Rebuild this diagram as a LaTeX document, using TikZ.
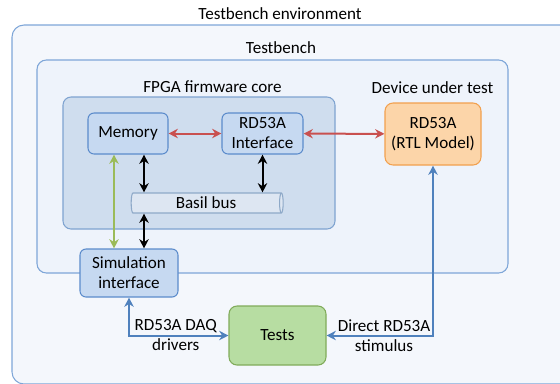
\documentclass[tikz,border=0pt]{standalone}
\usepackage{fontspec}
\setmainfont{Carlito}
\usetikzlibrary{arrows.meta,shapes.geometric,calc}
\definecolor{envfill}{HTML}{F4F7FC}
\definecolor{envline}{HTML}{7EA6D8}
\definecolor{tbfill}{HTML}{EEF3FB}
\definecolor{fpgafill}{HTML}{CFDDEE}
\definecolor{fpgaline}{HTML}{7FA3D0}
\definecolor{blockfill}{HTML}{C6D9F1}
\definecolor{blockline}{HTML}{5B8BCB}
\definecolor{busfill}{HTML}{DDE6F2}
\definecolor{busline}{HTML}{8EA9C8}
\definecolor{dutfill}{HTML}{FCD5A9}
\definecolor{dutline}{HTML}{F2A04E}
\definecolor{testfill}{HTML}{B7DDA2}
\definecolor{testline}{HTML}{80AB5A}
\definecolor{redarrow}{HTML}{C9504F}
\definecolor{greenarrow}{HTML}{9BBB59}
\definecolor{bluearrow}{HTML}{4F81BD}
\tikzset{%
  >={Stealth[length=7pt,width=7pt]},
  % Specifications for style of nodes:
        base/.style = {rectangle, draw, line width=0.8pt, align=center,
                       inner sep=0pt, font=\fontsize{12.8}{15}\selectfont},
   container/.style = {base, rounded corners=7pt},
       block/.style = {base, rounded corners=4.5pt, draw=blockline,
                       fill=blockfill},
     dutblock/.style = {base, rounded corners=6pt, draw=dutline, fill=dutfill},
   testblock/.style = {base, rounded corners=6pt, draw=testline, fill=testfill},
       title/.style = {font=\fontsize{12.8}{15}\selectfont},
     busline/.style = {line width=1.5pt},
}

\begin{document}
\begin{tikzpicture}[x=0.75pt, y=-0.75pt]
  \useasboundingbox (0,0) rectangle (560,383);
  \clip (0,0) rectangle (560,383);
  % Containers (drawn first, blocks on top)
  \node (env)  [container, rounded corners=9pt, draw=envline, fill=envfill,
                minimum width=433.5pt, minimum height=269.25pt] at (301,204.5) {};
  \node (tb)   [container, draw=envline, fill=tbfill,
                minimum width=353.25pt, minimum height=159.75pt] at (272.5,166.5) {};
  \node (fpga) [container, rounded corners=6pt, draw=fpgaline, fill=fpgafill,
                minimum width=204pt, minimum height=99pt] at (199,163) {};
  \node (envTitle)  [title] at (280,14) {Testbench environment};
  \node (tbTitle)   [title] at (281,48) {Testbench};
  \node (fpgaTitle) [title] at (212.5,87) {FPGA firmware core};
  \node (dutTitle)  [title] at (432.5,88) {Device under test};
  % Blocks
  \node (mem)  [block, minimum width=60pt, minimum height=30.75pt]
               at (128,133.5) {Memory};
  \node (intf) [block, minimum width=60.75pt, minimum height=30.75pt]
               at (262.5,133.5) {RD53A\\Interface};
  \node (dut)  [dutblock, minimum width=72pt, minimum height=46.5pt]
               at (433,134) {RD53A\\(RTL Model)};
  \node (bus)  [base, cylinder, draw=busline, fill=busfill, aspect=0.3,
                minimum height=114pt, minimum width=15pt]
               at (206,203) {Basil bus};
  \node (sim)  [block, minimum width=73.5pt, minimum height=36pt]
               at (129,273) {Simulation\\interface};
  \node (tests) [testblock, minimum width=72.75pt, minimum height=44.25pt]
               at (277.5,335.5) {Tests};
  % Connectors
  \draw[<->, busline, redarrow]   (mem) -- (intf);
  \draw[<->, busline, redarrow]  (intf) -- (dut);
  \draw[<->, busline] ($(mem.south)+(16,0)$) coordinate (memBus)
                                   -- (memBus |- bus.north);
  \draw[<->, busline] (intf.south) -- (intf.south |- bus.north);
  \draw[<->, busline] (bus.south -| memBus) -- (sim.north -| memBus);
  \draw[<->, busline, greenarrow] ($(mem.south)+(-14,0)$) coordinate (memSim)
                                   -- (memSim |- sim.north);
  \draw[<->, busline, bluearrow] (sim.south) |- node[pos=0.735, title,
                                   align=center, text=black]
                                   {RD53A DAQ\\drivers} (tests.west);
  \draw[<->, busline, bluearrow] (dut.south) |- node[pos=0.73, title,
                                   align=center, text=black]
                                   {Direct RD53A\\stimulus} (tests.east);
\end{tikzpicture}
\end{document}
